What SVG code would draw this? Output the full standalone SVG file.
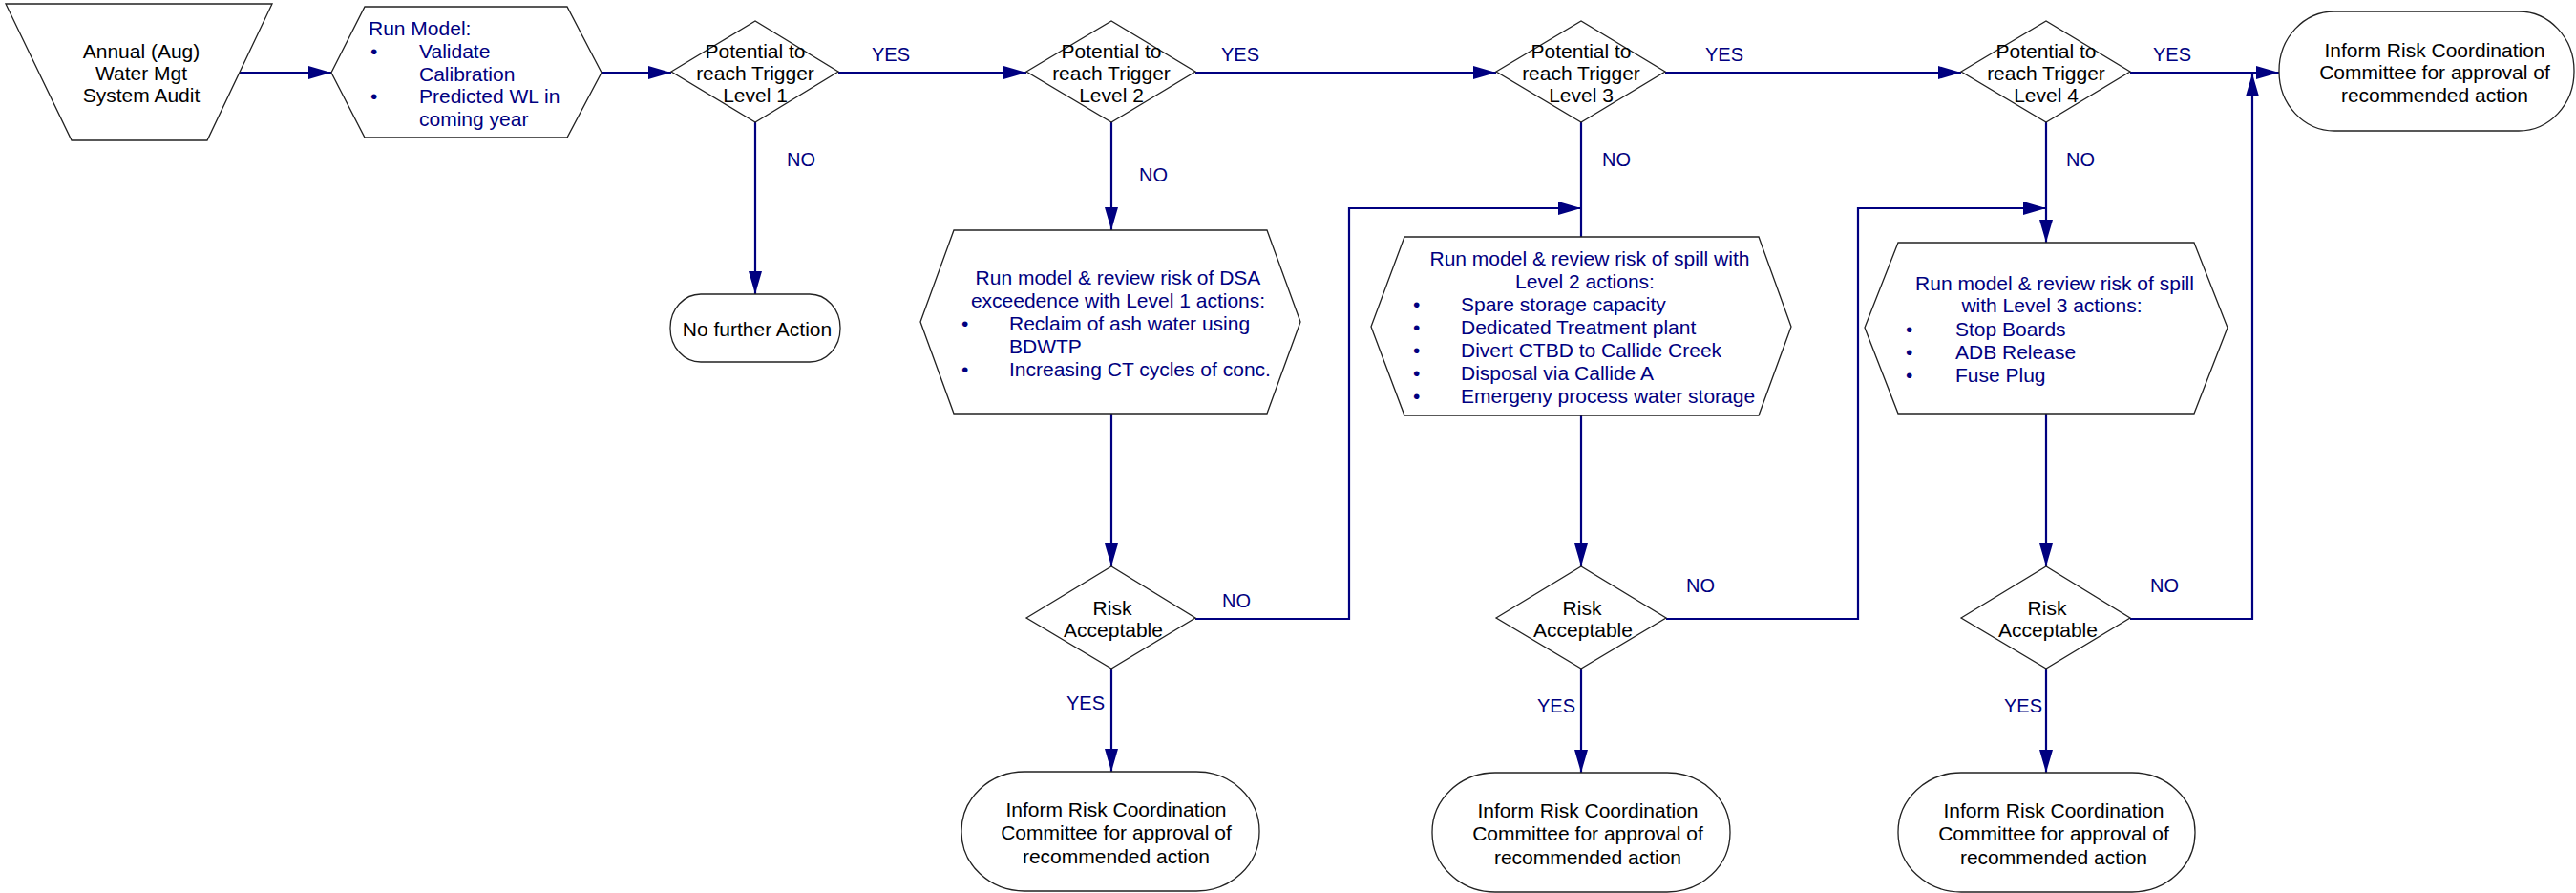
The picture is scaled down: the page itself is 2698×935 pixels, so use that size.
<svg xmlns="http://www.w3.org/2000/svg" width="2698" height="935" viewBox="0 0 2698 935">
<style>
.shape{fill:#fff;stroke:#222;stroke-width:1.3}
.t{font-family:"Liberation Sans",Arial,sans-serif;font-size:21px;fill:#000}
.tc{text-anchor:middle}
.b{fill:#000080}
.lbl{font-family:"Liberation Sans",Arial,sans-serif;font-size:20px;fill:#000080}
.c{fill:none;stroke:#000080;stroke-width:2.2}
</style>
<defs>
<marker id="ah" markerUnits="userSpaceOnUse" markerWidth="26" markerHeight="16" refX="24" refY="7" orient="auto">
<path d="M0,0 L24,7 L0,14 z" fill="#000080"/>
</marker>
</defs>
<rect width="2698" height="935" fill="#fff"/>

<g id="connectors">
<path class="c" d="M251,76 H347" marker-end="url(#ah)"/>
<path class="c" d="M630,76 H703" marker-end="url(#ah)"/>
<path class="c" d="M878,76 H1075" marker-end="url(#ah)"/>
<path class="c" d="M1252,76 H1567" marker-end="url(#ah)"/>
<path class="c" d="M1744,76 H2054" marker-end="url(#ah)"/>
<path class="c" d="M2231,76 H2387" marker-end="url(#ah)"/>
<path class="c" d="M791,128 V308" marker-end="url(#ah)"/>
<path class="c" d="M1164,128 V241" marker-end="url(#ah)"/>
<path class="c" d="M1164,433 V593" marker-end="url(#ah)"/>
<path class="c" d="M1252,648 H1413 V218 H1656" marker-end="url(#ah)"/>
<path class="c" d="M1656,128 V248"/>
<path class="c" d="M1656,435 V593" marker-end="url(#ah)"/>
<path class="c" d="M1745,648 H1946 V218 H2143" marker-end="url(#ah)"/>
<path class="c" d="M2143,128 V254" marker-end="url(#ah)"/>
<path class="c" d="M2143,433 V593" marker-end="url(#ah)"/>
<path class="c" d="M2231,648 H2359 V77" marker-end="url(#ah)"/>
<path class="c" d="M1164,700 V808" marker-end="url(#ah)"/>
<path class="c" d="M1656,700 V809" marker-end="url(#ah)"/>
<path class="c" d="M2143,700 V809" marker-end="url(#ah)"/>
<text class="lbl" x="913" y="64">YES</text>
<text class="lbl" x="1279" y="64">YES</text>
<text class="lbl" x="1786" y="64">YES</text>
<text class="lbl" x="2255" y="64">YES</text>
<text class="lbl" x="824" y="174">NO</text>
<text class="lbl" x="1193" y="190">NO</text>
<text class="lbl" x="1678" y="174">NO</text>
<text class="lbl" x="2164" y="174">NO</text>
<text class="lbl" x="1280" y="636">NO</text>
<text class="lbl" x="1766" y="620">NO</text>
<text class="lbl" x="2252" y="620">NO</text>
<text class="lbl" x="1157" y="743" text-anchor="end">YES</text>
<text class="lbl" x="1650" y="746" text-anchor="end">YES</text>
<text class="lbl" x="2139" y="746" text-anchor="end">YES</text>
</g>

<g id="audit">
<polygon class="shape" points="6,4 285,4 217,147 75,147"/>
<text class="t tc" x="148" y="61">Annual (Aug)</text>
<text class="t tc" x="148" y="84">Water Mgt</text>
<text class="t tc" x="148" y="107">System Audit</text>
</g>

<g id="runmodel">
<polygon class="shape" points="347,76 382,7 594,7 630,76 594,144 382,144"/>
<text class="t b" x="386" y="37">Run Model:</text>
<text class="t b" x="388" y="61">•</text>
<text class="t b" x="439" y="61">Validate</text>
<text class="t b" x="439" y="84.5">Calibration</text>
<text class="t b" x="388" y="108">•</text>
<text class="t b" x="439" y="108">Predicted WL in</text>
<text class="t b" x="439" y="132">coming year</text>
</g>

<g id="trigger1">
<polygon class="shape" points="703,75 791,22 878,75 791,128"/>
<text class="t tc" x="791" y="60.5">Potential to</text>
<text class="t tc" x="791" y="83.5">reach Trigger</text>
<text class="t tc" x="791" y="106.5">Level 1</text>
</g>

<g id="trigger2">
<polygon class="shape" points="1075,75 1164,22 1252,75 1164,128"/>
<text class="t tc" x="1164" y="60.5">Potential to</text>
<text class="t tc" x="1164" y="83.5">reach Trigger</text>
<text class="t tc" x="1164" y="106.5">Level 2</text>
</g>

<g id="trigger3">
<polygon class="shape" points="1567,75 1656,22 1744,75 1656,128"/>
<text class="t tc" x="1656" y="60.5">Potential to</text>
<text class="t tc" x="1656" y="83.5">reach Trigger</text>
<text class="t tc" x="1656" y="106.5">Level 3</text>
</g>

<g id="trigger4">
<polygon class="shape" points="2054,75 2143,22 2231,75 2143,128"/>
<text class="t tc" x="2143" y="60.5">Potential to</text>
<text class="t tc" x="2143" y="83.5">reach Trigger</text>
<text class="t tc" x="2143" y="106.5">Level 4</text>
</g>

<g id="inform-top">
<rect class="shape" x="2387" y="12" width="309" height="125" rx="58" ry="62"/>
<text class="t tc" x="2550" y="59.5">Inform Risk Coordination</text>
<text class="t tc" x="2550" y="82.5">Committee for approval of</text>
<text class="t tc" x="2550" y="106.5">recommended action</text>
</g>

<g id="nofurther">
<rect class="shape" x="702" y="308" width="178" height="71" rx="32" ry="35"/>
<text class="t tc" x="793" y="351.5">No further Action</text>
</g>

<g id="review1">
<polygon class="shape" points="999,241 1327,241 1362,337 1327,433 999,433 964,337"/>
<text class="t b tc" x="1171" y="297.5">Run model &amp; review risk of DSA</text>
<text class="t b tc" x="1171" y="321.5">exceedence with Level 1 actions:</text>
<text class="t b" x="1007" y="345.5">•</text>
<text class="t b" x="1057" y="345.5">Reclaim of ash water using</text>
<text class="t b" x="1057" y="369.5">BDWTP</text>
<text class="t b" x="1007" y="393.5">•</text>
<text class="t b" x="1057" y="393.5">Increasing CT cycles of conc.</text>
</g>

<g id="review2">
<polygon class="shape" points="1471,248 1842,248 1876,342 1842,435 1471,435 1436,342"/>
<text class="t b tc" x="1665" y="277.5">Run model &amp; review risk of spill with</text>
<text class="t b tc" x="1660" y="301.5">Level 2 actions:</text>
<text class="t b" x="1480" y="325.5">•</text>
<text class="t b" x="1530" y="325.5">Spare storage capacity</text>
<text class="t b" x="1480" y="349.5">•</text>
<text class="t b" x="1530" y="349.5">Dedicated Treatment plant</text>
<text class="t b" x="1480" y="373.5">•</text>
<text class="t b" x="1530" y="373.5">Divert CTBD to Callide Creek</text>
<text class="t b" x="1480" y="397.5">•</text>
<text class="t b" x="1530" y="397.5">Disposal via Callide A</text>
<text class="t b" x="1480" y="421.5">•</text>
<text class="t b" x="1530" y="421.5">Emergeny process water storage</text>
</g>

<g id="review3">
<polygon class="shape" points="1988,254 2298,254 2333,343 2298,433 1988,433 1953,343"/>
<text class="t b tc" x="2152" y="303.5">Run model &amp; review risk of spill</text>
<text class="t b tc" x="2149" y="327">with Level 3 actions:</text>
<text class="t b" x="1996" y="351.5">•</text>
<text class="t b" x="2048" y="351.5">Stop Boards</text>
<text class="t b" x="1996" y="376">•</text>
<text class="t b" x="2048" y="376">ADB Release</text>
<text class="t b" x="1996" y="400">•</text>
<text class="t b" x="2048" y="400">Fuse Plug</text>
</g>

<g id="risk1">
<polygon class="shape" points="1075,647 1164,593 1252,647 1164,700"/>
<text class="t tc" x="1165" y="643.5">Risk</text>
<text class="t tc" x="1166" y="666.5">Acceptable</text>
</g>

<g id="risk2">
<polygon class="shape" points="1567,647 1656,593 1745,647 1656,700"/>
<text class="t tc" x="1657" y="643.5">Risk</text>
<text class="t tc" x="1658" y="666.5">Acceptable</text>
</g>

<g id="risk3">
<polygon class="shape" points="2054,647 2143,593 2231,647 2143,700"/>
<text class="t tc" x="2144" y="643.5">Risk</text>
<text class="t tc" x="2145" y="666.5">Acceptable</text>
</g>

<g id="inform1">
<rect class="shape" x="1007" y="808" width="312" height="125" rx="66" ry="62"/>
<text class="t tc" x="1169" y="854.5">Inform Risk Coordination</text>
<text class="t tc" x="1169" y="878.5">Committee for approval of</text>
<text class="t tc" x="1169" y="903.5">recommended action</text>
</g>

<g id="inform2">
<rect class="shape" x="1500" y="809" width="312" height="125" rx="66" ry="62"/>
<text class="t tc" x="1663" y="855.5">Inform Risk Coordination</text>
<text class="t tc" x="1663" y="879.5">Committee for approval of</text>
<text class="t tc" x="1663" y="904.5">recommended action</text>
</g>

<g id="inform3">
<rect class="shape" x="1988" y="809" width="311" height="125" rx="66" ry="62"/>
<text class="t tc" x="2151" y="855.5">Inform Risk Coordination</text>
<text class="t tc" x="2151" y="879.5">Committee for approval of</text>
<text class="t tc" x="2151" y="904.5">recommended action</text>
</g>
</svg>
